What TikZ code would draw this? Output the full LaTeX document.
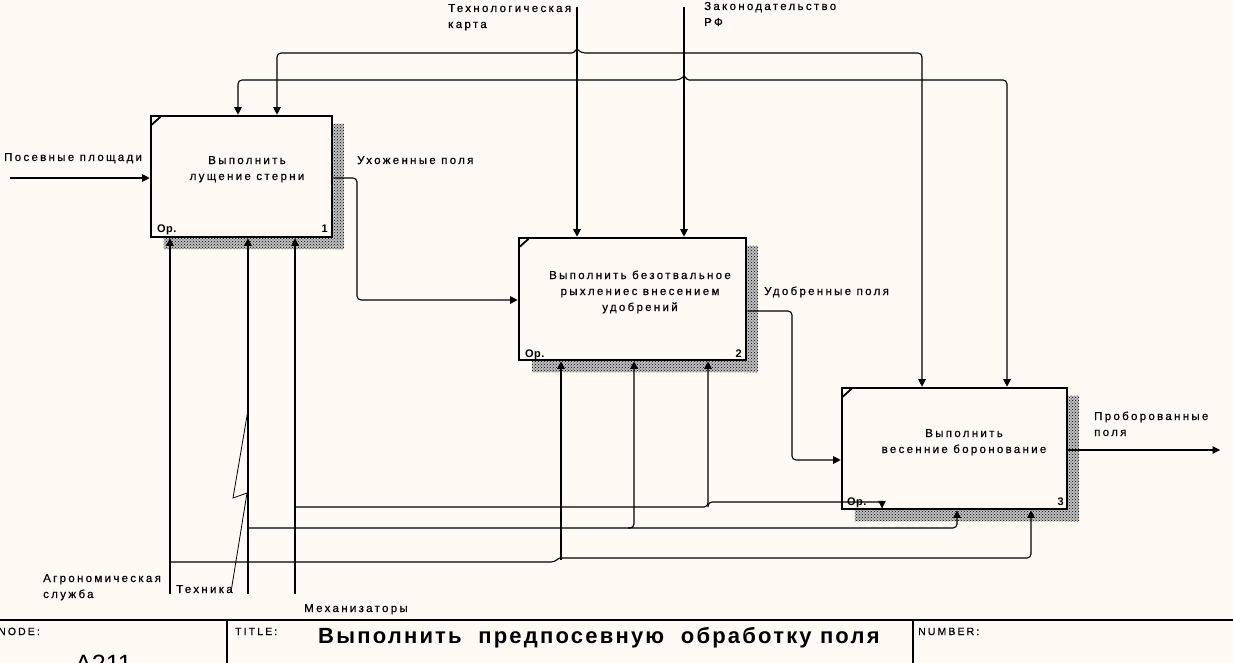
\documentclass[tikz,border=0pt]{standalone}
\usepackage{fontspec}
\setmainfont{Liberation Sans}
\newfontfamily\lblfont{Liberation Sans}[LetterSpace=20,FakeBold=0.6]
\newfontfamily\tagfont{Liberation Sans}[LetterSpace=4]
\newfontfamily\ttlfont{Liberation Sans}[LetterSpace=10]
\newfontfamily\bigfont{Liberation Sans}
\usetikzlibrary{arrows.meta,patterns,calc}
\definecolor{bg}{RGB}{255,251,244}
\begin{document}
\begin{tikzpicture}[x=1pt,y=-1pt,
  box/.style={draw, line width=2.6pt, fill=bg, inner sep=0pt},
  conn/.style={line width=1.1pt, rounded corners=4pt},
  arr/.style={conn, -{Triangle[length=7.5pt,width=7.5pt]}},
  lbl/.style={font=\lblfont\fontsize{11.5}{16}\selectfont, inner sep=0pt, anchor=base west, align=left},
  btxt/.style={font=\lblfont\fontsize{11.5}{16}\selectfont, inner sep=0pt, anchor=base, align=center},
  tag/.style={font=\tagfont\bfseries\fontsize{11}{13}\selectfont, inner sep=0pt},
  foot/.style={font=\lblfont\fontsize{10.5}{12}\selectfont, inner sep=0pt, anchor=base west},
  shadow/.style={fill=black!25, postaction={pattern=crosshatch dots, pattern color=black}},
  corner/.style={line width=1.8pt},
]
\fill[bg] (0,0) rectangle (1233,663);
\useasboundingbox (0,0) rectangle (1233,663);
\clip (0,0) rectangle (1233,663);

% ---------- boxes ----------
\node[box, minimum width=181pt, minimum height=121pt] (b1) at (241.5,176.5) {};
\node[box, minimum width=227pt, minimum height=122pt] (b2) at (632.5,299) {};
\node[box, minimum width=225pt, minimum height=121pt] (b3) at (954.5,448.5) {};

% shadows
\foreach \b in {b1,b2,b3}{
  \fill[shadow] ($(\b.north east)+(0,9)$) rectangle ($(\b.south east)+(11,11)$);
  \fill[shadow] ($(\b.south west)+(14,0)$) rectangle ($(\b.south east)+(11,11)$);
  \draw[corner] ($(\b.north west)+(2,10)$) -- ($(\b.north west)+(11,2)$);
}

% box texts (anchor = baseline of last line)
\node[btxt] (t1) at (247,180) {Выполнить\\лущение стерни};
\node[btxt] (t2) at (640,311) {Выполнить безотвальное\\рыхлениес внесением\\удобрений};
\node[btxt] (t3) at (964,453) {Выполнить\\весенние боронование};
\node[tag, anchor=base west] (o1) at (157,232) {Ор.};
\node[tag, anchor=base east] (n1) at (328,232) {1};
\node[tag, anchor=base west] (o2) at (525,357) {Ор.};
\node[tag, anchor=base east] (n2) at (742,357) {2};
\node[tag, anchor=base west] (o3t) at (847,505) {Ор.};
\node[tag, anchor=base east] (n3) at (1064,505) {3};

% ---------- inputs / outputs ----------
\coordinate (in1) at (10,178);
\draw[arr] (in1) -- (in1 -| b1.west);
\node[lbl] (lpos) at (4,161) {Посевные площади};

\draw[arr] (b1.east |- 0,178) -- (357,178) -- (357,300) -- (b2.west |- 0,300);
\node[lbl] (lux) at (357,164) {Ухоженные поля};

\draw[arr] (b2.east |- 0,311) -- (792,311) -- (792,460) -- (b3.west |- 0,460);
\node[lbl] (lud) at (764,295) {Удобренные поля};

\coordinate (out3) at (1220,450);
\draw[arr] (b3.east |- 0,450) -- (out3);
\node[lbl] (lpr) at (1094,436) {Проборованные\\поля};

% ---------- controls ----------
\coordinate (ctk) at (577,7);
\coordinate (czk) at (684,7);
\draw[arr] (ctk) -- (ctk |- b2.north);
\draw[arr] (czk) -- (czk |- b2.north);
\node[lbl] (ltk) at (448,28) {Технологическая\\карта};
\node[lbl] (lzk) at (704,26) {Законодательство\\РФ};

\draw[arr] (577,80) -- (238,80) -- (238,0 |- b1.north);
\draw[arr] (577,80) -- (680,80) [rounded corners=1pt] -- (684,76) -- (688,80) [rounded corners=4pt] -- (1007,80) -- (1007,0 |- b3.north);
\draw[arr] (684,53) -- (581,53) [rounded corners=1pt] -- (577,49) -- (573,53) [rounded corners=4pt] -- (277,53) -- (277,0 |- b1.north);
\draw[arr] (684,53) -- (922,53) -- (922,0 |- b3.north);

% ---------- mechanisms ----------
\coordinate (mag) at (170,594);
\coordinate (mte) at (248,594);
\coordinate (mme) at (295,594);
\draw[arr] (mag) -- (mag |- b1.south);
\draw[arr] (mte) -- (mte |- b1.south);
\draw[arr] (mme) -- (mme |- b1.south);
\node[lbl] (lag) at (43,598) {Агрономическая\\служба};
\node[lbl] (lte) at (176,593) {Техника};
\node[lbl] (lme) at (304,612) {Механизаторы};
\draw[line width=0.8pt] (231,592) -- (247,493) -- (233,498) -- (248,410);

\draw[arr] (170,562) -- (555,562) [rounded corners=1pt] -- (559,558) [rounded corners=4pt] -- (1031,558) -- (1031,0 |- b3.south);
\draw[arr] (561,560) -- (561,0 |- b2.south);
\draw[arr] (248,528) -- (957,528) -- (957,0 |- b3.south);
\draw[arr] (628,528) -- (634,528) -- (634,0 |- b2.south);
\draw[arr] (295,507) -- (708,507) -- (708,0 |- b2.south);
\draw[arr, shorten >=2pt] (708,507) -- (708,502) -- (882,502) -- (882,0 |- b3.south);

% ---------- footer ----------
\draw[line width=1.6pt] (0,620) coordinate (f0) -- (1233,620) coordinate (f1);
\draw[line width=1.2pt] (227,620) coordinate (fa) -- (227,663);
\draw[line width=1.2pt] (913,620) coordinate (fb) -- (913,663);
\node[foot] (fnode) at (-2,635) {NODE:};
\node[foot] (ftitle) at (235,635) {TITLE:};
\node[foot] (fnum) at (918,635) {NUMBER:};
\node[lbl, font=\ttlfont\bfseries\fontsize{22}{24}\selectfont] (title) at (318,643) {Выполнить\ \ предпосевную\ \ обработку поля};
\node[lbl, font=\bigfont\fontsize{25}{26}\selectfont] (anum) at (75,672) {A211};
\end{tikzpicture}
\end{document}
